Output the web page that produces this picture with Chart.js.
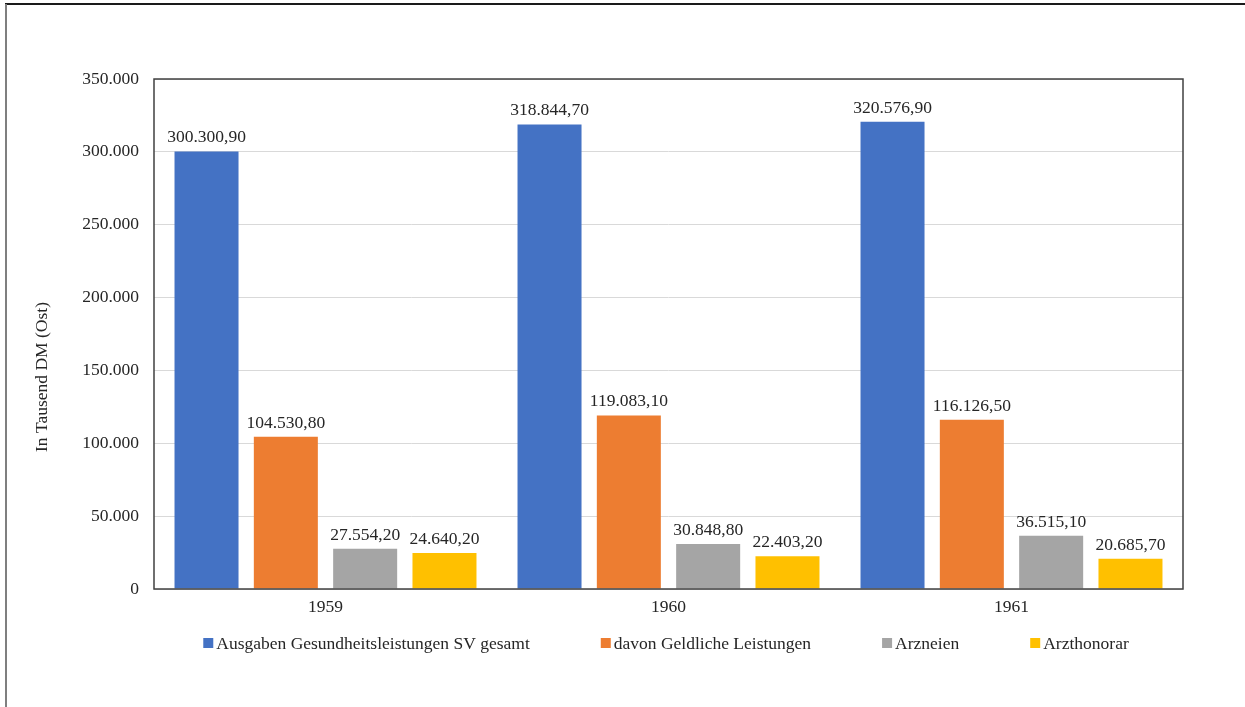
<!DOCTYPE html>
<html>
<head>
<meta charset="utf-8">
<script src="https://cdn.jsdelivr.net/npm/chart.js@4/dist/chart.umd.min.js"></script>
<style>
  html, body { margin: 0; padding: 0; background: #fff; }
  canvas { display: block; }
</style>
</head>
<body>
<canvas id="chart" width="1245" height="707"></canvas>
<script>
// Ausgaben der Sozialversicherung, in Tausend DM (Ost)
const years = ['1959', '1960', '1961'];
const seriesNames = [
  'Ausgaben Gesundheitsleistungen SV gesamt',
  'davon Geldliche Leistungen',
  'Arzneien',
  'Arzthonorar'
];
const gesamt = [300300.9, 318844.7, 320576.9];
const geldlich = [104530.8, 119083.1, 116126.5];
const arzneien = [27554.2, 30848.8, 36515.1];
const arzthonorar = [24640.2, 22403.2, 20685.7];
const seriesColors = ['#4472C4', '#ED7D31', '#A5A5A5', '#FFC000'];
const axisTitle = 'In Tausend DM (Ost)';

const FONT = '"Liberation Serif", "Times New Roman", serif';
const FONT_SIZE = 17.5;
const TEXT = '#262626';

// German number format: 1234567.8 -> "1.234.567,80"
function fmtDE(v, dec) {
  const parts = v.toFixed(dec).split('.');
  const int = parts[0].replace(/\B(?=(\d{3})+(?!\d))/g, '.');
  return parts[1] ? int + ',' + parts[1] : int;
}

// outer frame, plot box, value labels, axis title and legend
const decorations = {
  id: 'decorations',
  beforeDraw(chart) {
    const ctx = chart.ctx;
    ctx.save();
    ctx.lineWidth = 2;
    ctx.strokeStyle = '#1a1a1a';
    ctx.beginPath();
    ctx.moveTo(5, 4); ctx.lineTo(chart.width, 4);
    ctx.stroke();
    ctx.strokeStyle = '#7f7f7f';
    ctx.beginPath();
    ctx.moveTo(6, 4); ctx.lineTo(6, chart.height);
    ctx.stroke();
    ctx.restore();
  },
  afterDatasetsDraw(chart) {
    const ctx = chart.ctx;
    const a = chart.chartArea;
    ctx.save();
    ctx.strokeStyle = '#404040';
    ctx.lineWidth = 1.5;
    ctx.strokeRect(a.left, a.top, a.right - a.left, a.bottom - a.top);

    // value labels above the bars
    ctx.fillStyle = TEXT;
    ctx.font = FONT_SIZE + 'px ' + FONT;
    ctx.textAlign = 'center';
    ctx.textBaseline = 'bottom';
    chart.data.datasets.forEach((ds, i) => {
      chart.getDatasetMeta(i).data.forEach((bar, j) => {
        ctx.fillText(fmtDE(ds.data[j], 2), bar.x, bar.y - 5);
      });
    });

    // y axis title
    ctx.textBaseline = 'middle';
    ctx.translate(42, 377);
    ctx.rotate(-Math.PI / 2);
    ctx.fillText(axisTitle, 0, 0);
    ctx.restore();

    // legend row
    ctx.save();
    ctx.font = FONT_SIZE + 'px ' + FONT;
    ctx.textBaseline = 'middle';
    ctx.textAlign = 'left';
    const box = 10, gap = 3, y = 643;
    const widths = seriesNames.map(t => box + gap + ctx.measureText(t).width);
    const spacing = 71;
    const total = widths.reduce((s, w) => s + w, 0) + spacing * (widths.length - 1);
    let x = 666 - total / 2;
    seriesNames.forEach((t, i) => {
      ctx.fillStyle = seriesColors[i];
      ctx.fillRect(x, y - box / 2, box, box);
      ctx.fillStyle = TEXT;
      ctx.fillText(t, x + box + gap, y + 1);
      x += widths[i] + spacing;
    });
    ctx.restore();
  }
};

const seriesData = [gesamt, geldlich, arzneien, arzthonorar];

new Chart(document.getElementById('chart'), {
  type: 'bar',
  data: {
    labels: years,
    datasets: seriesNames.map((name, i) => ({
      label: name,
      data: seriesData[i],
      backgroundColor: seriesColors[i],
      categoryPercentage: 0.925,
      barPercentage: 0.807
    }))
  },
  options: {
    responsive: false,
    animation: false,
    layout: { padding: { top: 79, right: 62, left: 0, bottom: 0 } },
    plugins: {
      legend: { display: false },
      tooltip: { enabled: false }
    },
    scales: {
      x: {
        grid: { display: false, drawTicks: false },
        border: { display: false },
        ticks: { color: TEXT, font: { family: FONT, size: FONT_SIZE }, padding: 8 },
        afterFit: (s) => { s.height = 118; }
      },
      y: {
        min: 0,
        max: 350000,
        grid: { color: '#D9D9D9', drawTicks: false },
        border: { display: false },
        ticks: {
          stepSize: 50000,
          color: TEXT,
          font: { family: FONT, size: FONT_SIZE },
          padding: 15,
          callback: (v) => fmtDE(v, 0)
        },
        afterFit: (s) => { s.width = 154; }
      }
    }
  },
  plugins: [decorations]
});
</script>
</body>
</html>
